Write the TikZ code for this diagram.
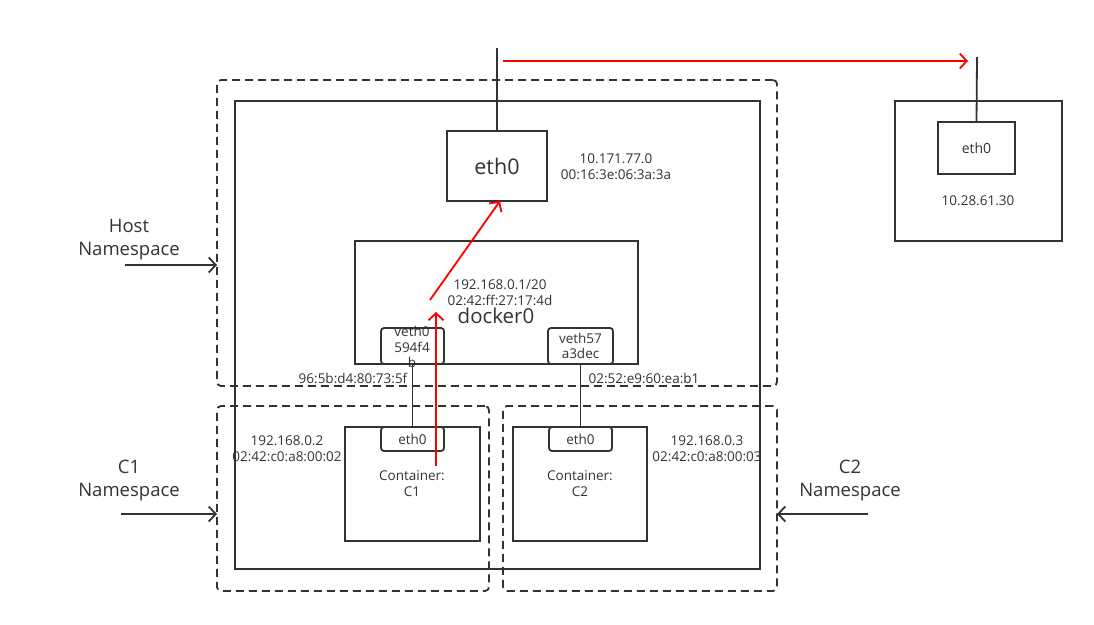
\documentclass[tikz,border=0pt]{standalone}
\usepackage{fontspec}
\setmainfont{Open Sans}
\usetikzlibrary{arrows.meta}
\definecolor{ink}{HTML}{333333}
\begin{document}
\begin{tikzpicture}[x=1pt,y=-1pt,
  every node/.style={text=ink, inner sep=0pt, outer sep=0pt},
  box/.style={draw=ink, line width=1.8pt},
  rbox/.style={draw=ink, line width=1.8pt, rounded corners=3pt},
  dbox/.style={draw=ink, line width=1.8pt, dash pattern=on 8pt off 5pt, rounded corners=4pt},
  small/.style={font=\fontsize{13.5}{16}\selectfont, align=center},
  big/.style={font=\fontsize{18.5}{23}\selectfont, align=center},
  link/.style={draw=ink, line width=1.8pt},
  blk/.style={draw=ink, line width=1.8pt, -{Straight Barb[length=7pt,width=15pt]}},
  redarr/.style={draw=red, line width=1.8pt, -{Straight Barb[length=7pt,width=15pt]}}
]
\useasboundingbox (0,0) rectangle (1094,624);

% namespaces
\node[dbox, minimum width=560pt, minimum height=306pt] (hostns) at (497,233) {};
\node[dbox, minimum width=272pt, minimum height=185pt] (c1ns) at (353,498.5) {};
\node[dbox, minimum width=274pt, minimum height=185pt] (c2ns) at (640,498.5) {};

% host box
\node[box, minimum width=525pt, minimum height=468pt] (host) at (497.5,335) {};

% host eth0
\node[box, minimum width=100pt, minimum height=70pt, font=\fontsize{21.5}{24}\selectfont] (eth0) at (497,166) {eth0};
\coordinate (up) at (497,48);
\draw[link] (eth0.north) -- (up);
\node[small] (ethinfo) at (616,167) {10.171.77.0\\00:16:3e:06:3a:3a};

% docker0
\node[box, minimum width=283pt, minimum height=123pt] (docker) at (496.5,302.5) {};
\node[small] (dockinfo) at (500,293) {192.168.0.1/20\\02:42:ff:27:17:4d};
\node[font=\fontsize{20.5}{24}\selectfont] (dockname) at (496,316) {docker0};

% veths
\node[rbox, minimum width=63pt, minimum height=36pt] (veth0) at (412.5,346) {};
\node[small, font=\fontsize{13.5}{15.5}\selectfont] (veth0t) at (412,347) {veth0\\594f4\\b};
\node[rbox, minimum width=65pt, minimum height=36pt, small, font=\fontsize{13.5}{15.5}\selectfont] (veth57) at (580.5,346) {veth57\\a3dec};
\node[small] (mac1) at (353,378) {96:5b:d4:80:73:5f};
\node[small] (mac2) at (644,378) {02:52:e9:60:ea:b1};

% containers
\node[box, minimum width=135pt, minimum height=114pt] (cont1) at (412.5,484) {};
\node[small] (cont1t) at (412,484) {Container:\\C1};
\node[rbox, minimum width=63pt, minimum height=24pt, font=\fontsize{13.5}{15}\selectfont] (c1eth) at (412.5,439) {eth0};
\node[box, minimum width=134pt, minimum height=114pt] (cont2) at (580,484) {};
\node[small] (cont2t) at (580,484) {Container:\\C2};
\node[rbox, minimum width=63pt, minimum height=24pt, font=\fontsize{13.5}{15}\selectfont] (c2eth) at (580.5,439) {eth0};
\node[small] (c1info) at (287,449) {192.168.0.2\\02:42:c0:a8:00:02};
\node[small] (c2info) at (707,449) {192.168.0.3\\02:42:c0:a8:00:03};

\draw[link] (veth0.south -| c1eth.north) -- (c1eth.north);
\draw[link] (veth57.south) -- (c2eth.north);

% namespace labels
\node[big] (hostlbl) at (129,240) {Host\\Namespace};
\node[big] (c1lbl) at (129,481) {C1\\Namespace};
\node[big] (c2lbl) at (850,481) {C2\\Namespace};
\coordinate (ha) at (125,265);
\coordinate (c1a) at (121,514);
\coordinate (c2a) at (868,514);
\draw[blk] (ha) -- (hostns.west |- ha);
\draw[blk] (c1a) -- (c1ns.west |- c1a);
\draw[blk] (c2a) -- (c2ns.east |- c2a);

% remote host
\node[box, minimum width=167pt, minimum height=140pt] (remote) at (978.5,171) {};
\node[box, minimum width=77pt, minimum height=52pt, font=\fontsize{14}{16}\selectfont] (reth) at (976.5,148) {eth0};
\coordinate (rup) at (977,57);
\draw[link] (reth.north) -- (rup);
\node[small] (rip) at (978,201) {10.28.61.30};

% red packet path
\coordinate (r1s) at (436,466);
\coordinate (r1e) at (436,312);
\coordinate (r2s) at (430,300);
\coordinate (r3s) at (503,61);
\coordinate (r3e) at (968,61);
\draw[redarr] (r1s) -- (r1e);
\draw[redarr] (r2s) -- ([xshift=3pt]eth0.south);
\draw[redarr] (r3s) -- (r3e);
\end{tikzpicture}
\end{document}
